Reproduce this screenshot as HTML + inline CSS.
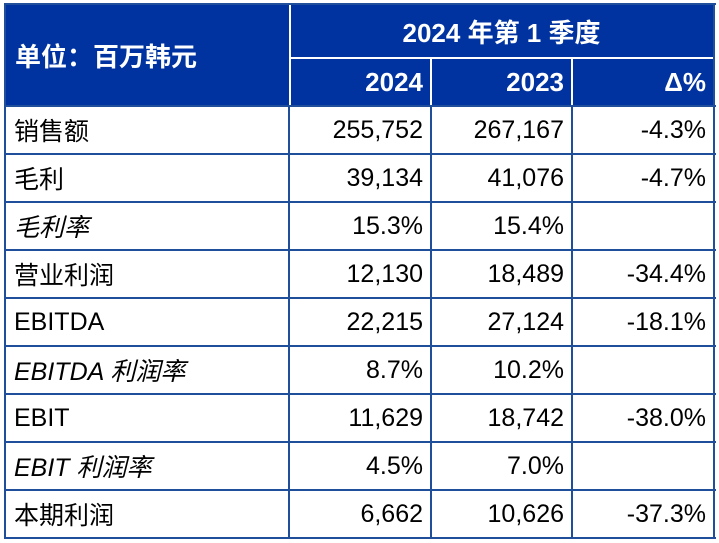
<!DOCTYPE html>
<html><head><meta charset="utf-8"><style>
body{margin:0;width:719px;height:543px;background:#fff;position:relative;overflow:hidden;font-family:"Liberation Sans","Noto Sans CJK SC",sans-serif}
.c{position:absolute;box-sizing:border-box;display:flex;align-items:center;font-size:25px;color:#000}
.h{background:#0033A0;color:#fff;font-weight:bold}
.r{justify-content:flex-end;padding-right:8px}
.l{padding-left:10px}
.i{font-style:italic}
.ln{position:absolute;background:#1F4E9A}
.wl{position:absolute;background:#fff}
</style></head><body>
<div class="c h l" style="left:5px;top:4px;width:284px;height:102px;font-size:26px">单位：百万韩元</div>
<div class="c h" style="left:289px;top:4px;width:425px;height:54px;justify-content:center;font-size:26px">2024 年第 1 季度</div>
<div class="c h r" style="left:289px;top:58px;width:142px;height:48px;font-size:26px">2024</div>
<div class="c h r" style="left:431px;top:58px;width:141px;height:48px;font-size:26px">2023</div>
<div class="c h r" style="left:572px;top:58px;width:142px;height:48px;font-size:26px">Δ%</div>
<div class="wl" style="left:289px;top:4px;width:2px;height:102px"></div>
<div class="wl" style="left:289px;top:57px;width:425px;height:2px"></div>
<div class="wl" style="left:430px;top:58px;width:2px;height:48px"></div>
<div class="wl" style="left:571px;top:58px;width:2px;height:48px"></div>
<div id="rows"></div>
<script>
const labels=["销售额","毛利","毛利率","营业利润","EBITDA","EBITDA 利润率","EBIT","EBIT 利润率","本期利润"];
const v2024=["255,752","39,134","15.3%","12,130","22,215","8.7%","11,629","4.5%","6,662"];
const v2023=["267,167","41,076","15.4%","18,489","27,124","10.2%","18,742","7.0%","10,626"];
const delta=["-4.3%","-4.7%","","-34.4%","-18.1%","","-38.0%","","-37.3%"];
const italic=[false,false,true,false,false,true,false,true,false];
const root=document.getElementById('rows');
const top0=106,rh=48,cols=[4,289,431,572,714];
function cell(x,y,w,txt,cls,name){
 const d=document.createElement('div');
 d.className='c '+cls;
 d.style.left=x+'px';d.style.top=y+'px';d.style.width=w+'px';d.style.height=rh+'px';
 d.textContent=txt;
 
 
 root.appendChild(d);
}
labels.forEach((lab,i)=>{
 const y=top0+i*rh;
 cell(cols[0],y,cols[1]-cols[0],lab,'l'+(italic[i]?' i':''),'row-label');
 cell(cols[1],y,cols[2]-cols[1],v2024[i],'r','value-2024');
 cell(cols[2],y,cols[3]-cols[2],v2023[i],'r','value-2023');
 cell(cols[3],y,cols[4]-cols[3],delta[i],'r','value-delta');
 const ln=document.createElement('div');ln.className='ln';
 ln.style.left='4px';ln.style.top=(y-1)+'px';ln.style.width='712px';ln.style.height='2px';
 
 
 root.appendChild(ln);
});
const bottom=top0+labels.length*rh;
[[4,3,712,2],[4,bottom-1,712,2],[4,3,2,bottom-2],[713,3,2,bottom-2],[288,top0,2,bottom-top0],[430,top0,2,bottom-top0],[571,top0,2,bottom-top0]].forEach(a=>{
 const ln=document.createElement('div');ln.className='ln';
 ln.style.left=a[0]+'px';ln.style.top=a[1]+'px';ln.style.width=a[2]+'px';ln.style.height=a[3]+'px';
 
 
 root.appendChild(ln);
});
</script>
</body></html>
